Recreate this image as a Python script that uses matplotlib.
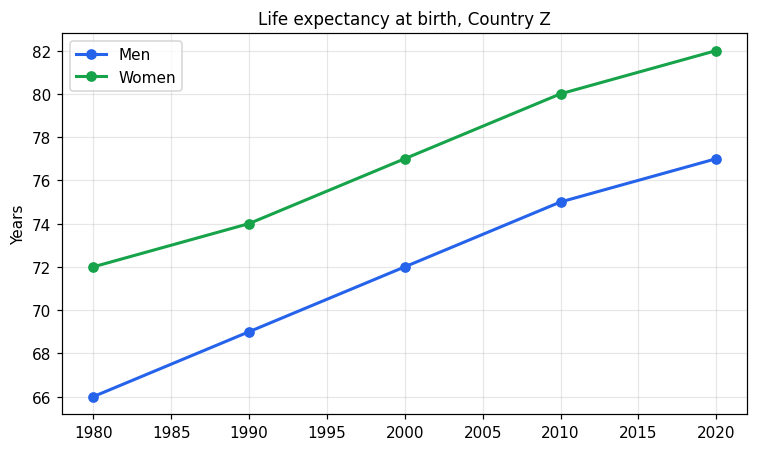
import matplotlib
matplotlib.use("Agg")
from matplotlib import pyplot as plt

years = [1980, 1990, 2000, 2010, 2020]
men = [66, 69, 72, 75, 77]
women = [72, 74, 77, 80, 82]

fig, ax = plt.subplots(figsize=(7.58 / 1.1, 4.51 / 1.1), dpi=110)
ax.plot(years, men, marker='o', color='#2563eb', linewidth=2, label='Men')
ax.plot(years, women, marker='o', color='#16a34a', linewidth=2, label='Women')
ax.set_title('Life expectancy at birth, Country Z', fontsize=11)
ax.set_ylabel('Years')
ax.grid(True, alpha=0.3)
ax.legend(loc='upper left')
plt.subplots_adjust(left=0.082, right=0.986, top=0.924, bottom=0.080)
plt.savefig('out.png', dpi=110)
